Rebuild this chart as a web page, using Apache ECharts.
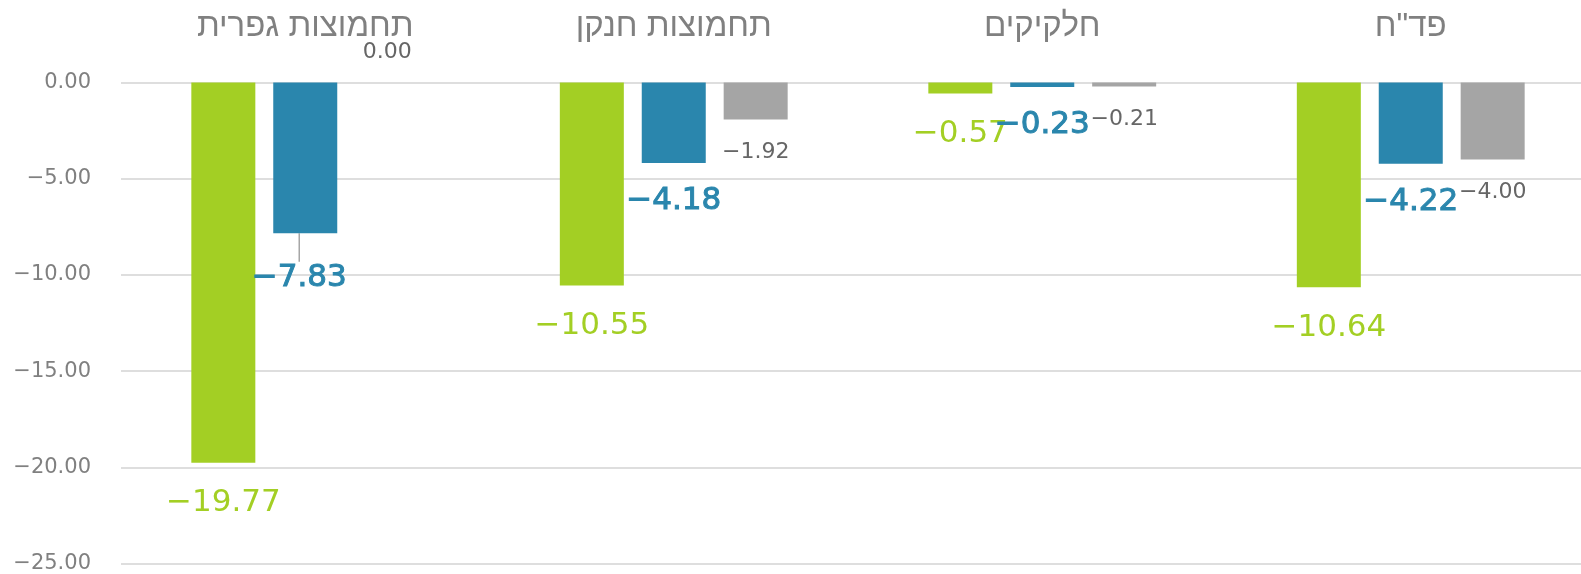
<!DOCTYPE html>
<html>
<head>
<meta charset="utf-8">
<script src="https://cdn.jsdelivr.net/npm/echarts@6/dist/echarts.min.js"></script>
<style>
  html, body { margin: 0; padding: 0; background: #fff; overflow: hidden; }
  /* the plot runs a little past the right edge in the original */
  #chart { width: 1595px; height: 574px; }
</style>
</head>
<body>
<div id="chart"></div>
<script>
// categories along the top axis
const categories = ['תחמוצות גפרית', 'תחמוצות חנקן', 'חלקיקים', 'פד"ח'];
// three series (green, blue, gray)
const greenValues = [-19.77, -10.55, -0.57, -10.64];
const blueValues = [-7.83, -4.18, -0.23, -4.22];
const grayValues = [0.00, -1.92, -0.21, -4.00];
const yTicks = { min: -25, max: 0, interval: 5 };

const FONT = "'DejaVu Sans', sans-serif";
const HEB_FONT = "'Liberation Sans', Arial, sans-serif";

function fmt(v) {
  return v.toFixed(2).replace('-', '−');
}

const chart = echarts.init(document.getElementById('chart'));

function barSeries(name, values, color, labelStyle) {
  return {
    name: name,
    type: 'bar',
    barWidth: 64,
    barGap: '28%',
    data: values.map(function (v) {
      const item = { value: v };
      // zero bar: label sits above the axis line
      if (v === 0) {
        item.label = { position: 'top', distance: 19 };
      }
      return item;
    }),
    itemStyle: { color: color },
    labelLine: { show: false },
    label: Object.assign({
      show: true,
      position: 'bottom',
      fontFamily: FONT,
      formatter: function (p) { return fmt(p.value); }
    }, labelStyle)
  };
}

const option = {
  backgroundColor: '#ffffff',
  animation: false,
  grid: {
    left: 121,
    right: 0,
    top: 82.5,
    bottom: 8,
    containLabel: false
  },
  xAxis: {
    type: 'category',
    position: 'top',
    data: categories,
    axisLine: { show: false },
    axisTick: { show: false },
    axisLabel: {
      margin: 39,
      fontSize: 33,
      color: '#808080',
      fontFamily: HEB_FONT
    }
  },
  yAxis: {
    type: 'value',
    min: yTicks.min,
    max: yTicks.max,
    interval: yTicks.interval,
    axisLine: { show: false },
    axisTick: { show: false },
    splitLine: { lineStyle: { color: '#dedede', width: 2 } },
    axisLabel: {
      margin: 30,
      fontSize: 21,
      color: '#808080',
      fontFamily: FONT,
      formatter: function (v) { return fmt(v); }
    }
  },
  series: [
    barSeries('סדרה 1', greenValues, '#a3cf24', { fontSize: 31, color: '#a3cf24', distance: 25 }),
    barSeries('סדרה 2', blueValues, '#2a86ad', {
      fontSize: 31, color: '#2a86ad', distance: 23,
      textBorderColor: '#2a86ad', textBorderWidth: 1
    }),
    barSeries('סדרה 3', grayValues, '#a5a5a5', { fontSize: 22, color: '#666666', distance: 22 })
  ]
};

// the -7.83 label is pushed down in the original, with a small leader line
option.series[1].data[0].labelLine = { show: true, lineStyle: { color: '#a6a6a6', width: 1.5 } };
option.series[1].labelLayout = function (params) {
  if (params.dataIndex === 0) {
    return { dx: -6, dy: 6 };
  }
};

chart.setOption(option);
</script>
</body>
</html>
